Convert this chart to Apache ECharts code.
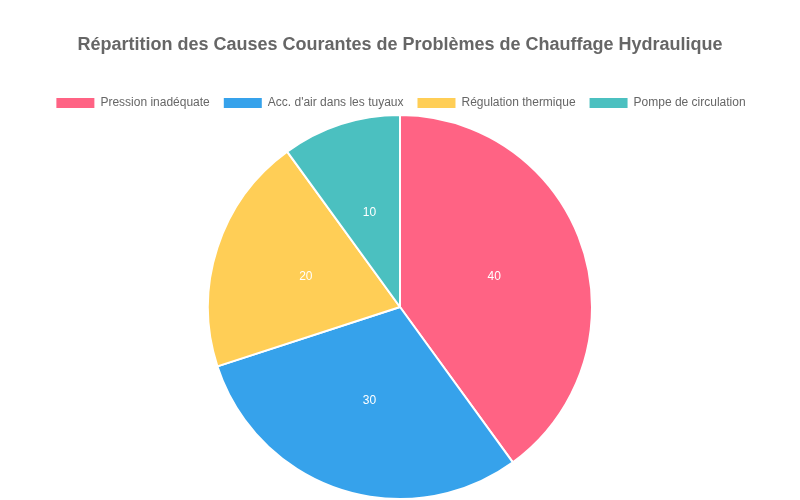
<!DOCTYPE html>
<html>
<head>
<meta charset="utf-8">
<script src="https://cdn.jsdelivr.net/npm/echarts@6/dist/echarts.min.js"></script>
<style>html,body{margin:0;padding:0;background:#fff}#chart{width:800px;height:500px}</style>
</head>
<body>
<div id="chart"></div>
<script>
const categories = ['Pression inadéquate', "Acc. d'air dans les tuyaux", 'Régulation thermique', 'Pompe de circulation'];
const values = [40, 30, 20, 10];
const colors = ['#FF6384', '#36A2EB', '#FFCE56', '#4BC0C0'];

const chart = echarts.init(document.getElementById('chart'));
chart.setOption({
  animation: false,
  title: {
    text: 'Répartition des Causes Courantes de Problèmes de Chauffage Hydraulique',
    left: 'center',
    top: 31,
    textStyle: { fontFamily: 'Liberation Sans, Arial', fontSize: 18, fontWeight: 'bold', color: '#666' }
  },
  legend: {
    top: 91,
    left: 'center',
    itemWidth: 40,
    itemHeight: 12,
    itemGap: 12,
    icon: 'rect',
    textStyle: { fontFamily: 'Liberation Sans, Arial', fontSize: 12, color: '#666' },
    data: categories
  },
  series: [{
    type: 'pie',
    center: [400, 307],
    radius: 192,
    startAngle: 90,
    clockwise: true,
    color: colors,
    itemStyle: { borderColor: '#fff', borderWidth: 2 },
    label: { position: 'inner', color: '#fff', fontSize: 12, fontFamily: 'Liberation Sans, Arial', formatter: '{c}' },
    labelLine: { show: false },
    data: categories.map((name, i) => ({ name, value: values[i] }))
  }]
});
</script>
</body>
</html>
